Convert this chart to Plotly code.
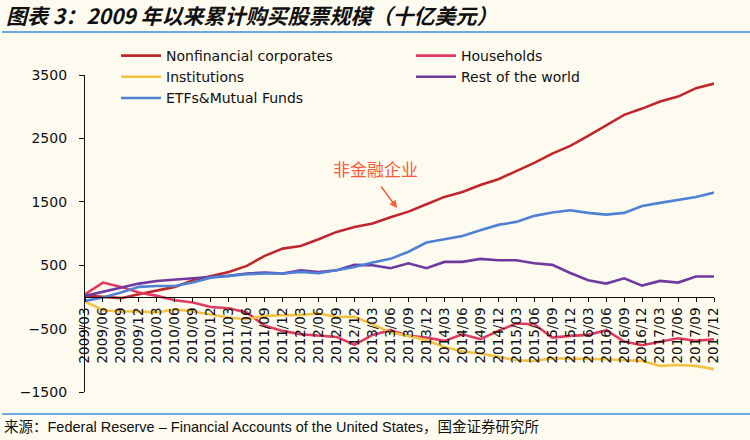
import plotly.graph_objects as go

quarters = ["2009/03", "2009/06", "2009/09", "2009/12", "2010/03", "2010/06", "2010/09", "2010/12",
            "2011/03", "2011/06", "2011/09", "2011/12", "2012/03", "2012/06", "2012/09", "2012/12",
            "2013/03", "2013/06", "2013/09", "2013/12", "2014/03", "2014/06", "2014/09", "2014/12",
            "2015/03", "2015/06", "2015/09", "2015/12", "2016/03", "2016/06", "2016/09", "2016/12",
            "2017/03", "2017/06", "2017/09", "2017/12"]

nonfinancial = [20, 0, -20, 42, 95, 158, 263, 331, 394, 489, 647, 762, 804, 910, 1025, 1104,
                1157, 1255, 1345, 1462, 1577, 1656, 1766, 1856, 1987, 2114, 2260, 2382, 2539, 2708,
                2871, 2970, 3081, 3160, 3292, 3364]
households = [42, 226, 158, 68, 16, -52, -89, -160, -180, -247, -457, -536, -589, -615, -631, -757,
              -599, -525, -615, -641, -694, -589, -667, -536, -420, -431, -641, -615, -599, -525,
              -704, -762, -710, -652, -694, -667]
institutions = [-74, -210, -231, -231, -247, -194, -231, -273, -326, -352, -300, -289, -284, -263,
                -315, -315, -431, -562, -615, -683, -789, -862, -894, -946, -999, -1009, -967, -973,
                -973, -983, -999, -1009, -1088, -1073, -1088, -1140]
rest_world = [16, 84, 147, 210, 252, 279, 295, 315, 331, 368, 384, 368, 421, 394, 421, 505, 500,
              452, 531, 452, 552, 552, 599, 578, 578, 531, 505, 378, 263, 210, 294, 178, 252, 226,
              321, 321]
etfs = [-63, -10, 68, 158, 173, 173, 226, 304, 331, 358, 368, 368, 394, 373, 421, 473, 541, 600,
        712, 857, 910, 962, 1052, 1136, 1183, 1278, 1330, 1367, 1325, 1298, 1325, 1435, 1483, 1530,
        1577, 1645]

series = [
    ("Nonfinancial corporates", nonfinancial, "#c0272d"),
    ("Households", households, "#e03a60"),
    ("Institutions", institutions, "#f4c242"),
    ("Rest of the world", rest_world, "#6f3aa0"),
    ("ETFs&Mutual Funds", etfs, "#4f81d4"),
]

y_ticks = [-1500, -500, 500, 1500, 2500, 3500]
y_range = [-1500, 3500]

x_idx = list(range(len(quarters)))

# page geometry (pixels)
W, H = 750, 440
ML, MR, MT, MB = 85, 36, 35, 48
PW, PH = W - ML - MR, H - MT - MB
PLOT_TOP = 75


def pxx(p):
    return (p - ML) / PW


def pxy(p):
    return (H - MB - p) / PH


ydom_top = pxy(PLOT_TOP)
zero_pos = ydom_top * (0 - y_range[0]) / (y_range[1] - y_range[0])

fig = go.Figure()
for name, vals, color in series:
    fig.add_trace(go.Scatter(x=x_idx, y=vals, name=name, mode="lines",
                             line=dict(color=color, width=2.6)))

bg = "#fdfbf0"
font_main = "DejaVu Sans, Arial, sans-serif"

fig.update_layout(
    width=W, height=H,
    paper_bgcolor=bg, plot_bgcolor=bg,
    margin=dict(l=ML, r=MR, t=MT, b=MB),
    showlegend=True,
    legend=dict(orientation="h", x=pxx(116), y=pxy(40), xanchor="left", yanchor="top",
                entrywidth=240, itemwidth=40, font=dict(family=font_main, size=14, color="#111"),
                bgcolor="rgba(0,0,0,0)", tracegroupgap=0),
    xaxis=dict(range=[0, 35], tickmode="array", tickvals=x_idx, ticktext=quarters,
               tickangle=-90, showline=True, linecolor="#111", linewidth=1.3,
               ticks="outside", ticklen=4, tickcolor="#111", showgrid=False, zeroline=False,
               anchor="free", position=zero_pos,
               tickfont=dict(family=font_main, size=13.5, color="#111")),
    yaxis=dict(range=y_range, domain=[0, ydom_top], tickmode="array", tickvals=y_ticks,
               showline=True, linecolor="#111", linewidth=1.3, ticks="outside", ticklen=5,
               tickcolor="#111", showgrid=False, zeroline=False, ticklabelstandoff=9,
               tickfont=dict(family=font_main, size=14, color="#111")),
)

# Title and separators
fig.add_annotation(xref="paper", yref="paper", x=pxx(4), y=pxy(15),
                   xanchor="left", yanchor="middle", showarrow=False,
                   text="<b><i>图表 3：2009 年以来累计购买股票规模（十亿美元）</i></b>",
                   font=dict(family="Noto Sans CJK SC, sans-serif", size=21, color="#111"))
fig.add_shape(type="line", xref="paper", yref="paper", x0=pxx(2), x1=pxx(750),
              y0=pxy(32), y1=pxy(32), line=dict(color="#6fa8dc", width=2))
fig.add_shape(type="line", xref="paper", yref="paper", x0=pxx(2), x1=pxx(750),
              y0=pxy(414), y1=pxy(414), line=dict(color="#6fa8dc", width=2))
fig.add_annotation(xref="paper", yref="paper", x=pxx(2), y=pxy(427),
                   xanchor="left", yanchor="middle", showarrow=False,
                   text="来源：Federal Reserve – Financial Accounts of the United States，国金证券研究所",
                   font=dict(family="Liberation Sans, Noto Sans CJK SC, sans-serif", size=14.5, color="#111"))

# Callout
fig.add_annotation(xref="paper", yref="paper", x=pxx(375), y=pxy(168), text="非金融企业",
                   showarrow=False,
                   font=dict(family="Noto Sans CJK SC, sans-serif", size=17, color="#f0603a"))
fig.add_annotation(xref="paper", yref="paper", x=pxx(397), y=pxy(208), text="", showarrow=True,
                   ax=-17, ay=-23, arrowhead=2, arrowsize=1, arrowwidth=1.5, arrowcolor="#f0603a")

fig.write_html("out.html", config={"displayModeBar": False},
               post_script="document.body.style.margin='0';")
